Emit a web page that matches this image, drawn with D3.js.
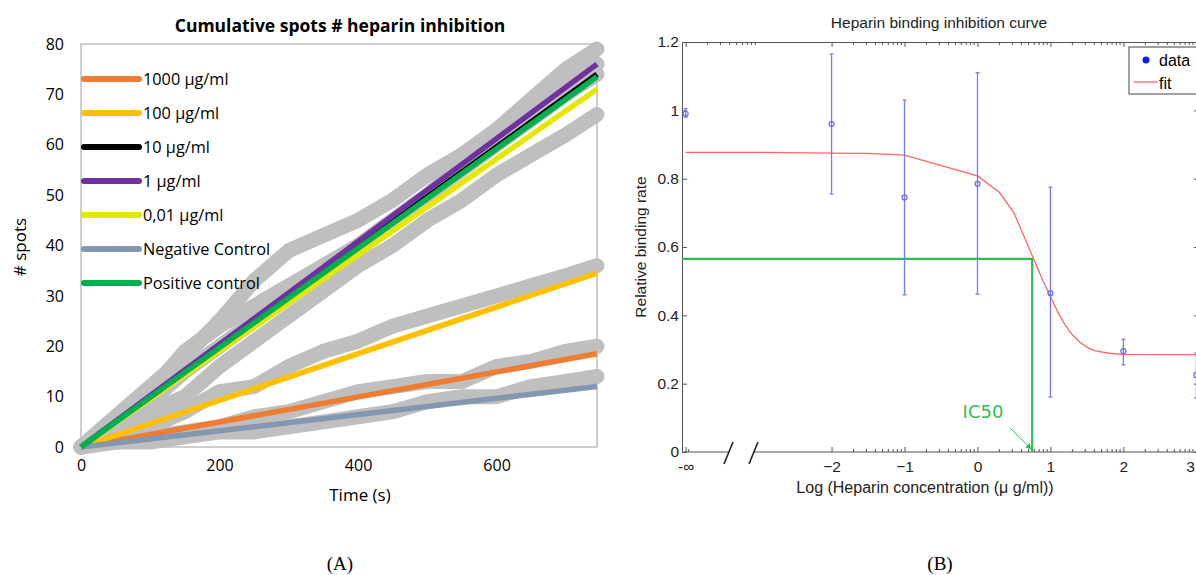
<!DOCTYPE html>
<html>
<head>
<meta charset="utf-8">
<script src="https://cdn.jsdelivr.net/npm/d3@7"></script>
<style>
body { margin: 0; background: #fff; }
svg { display: block; }
</style>
</head>
<body>
<div id="chart"></div>
<script>
const width = 1196
const height = 575

// ---- panel A data ----
const seriesNames = ["1000 µg/ml", "100 µg/ml", "10 µg/ml", "1 µg/ml", "0,01 µg/ml", "Negative Control", "Positive control"]
const seriesColors = ["#ED7D31", "#FFC000", "#000000", "#7030A0", "#E6E600", "#8497B0", "#00B050"]
const trendEnd = [18.5, 34.5, 74, 76, 71, 12, 73.5]   // trend value at t = 745 s
const trendTime = [0, 745]

const rawTimes = [0, 50, 100, 150, 200, 250, 300, 350, 400, 450, 500, 550, 600, 650, 700, 745]
const raw1000 = [0, 1, 2, 3, 4, 6, 7, 9, 11, 12, 13, 13, 16, 17, 19, 20]
const raw100 = [0, 2, 4, 7, 11, 12, 16, 19, 21, 24, 26, 28, 30, 32, 34, 36]
const raw10 = [0, 4, 9, 15, 20, 25, 30, 35, 40, 45, 50, 55, 60, 65, 70, 74]
const raw1 = [0, 6, 12, 18, 25, 33, 39, 42, 45, 49, 54, 58, 63, 69, 75, 79]
const raw001 = [0, 3, 7, 10, 16, 21, 26, 31, 36, 40, 45, 49, 54, 58, 62, 66]
const rawNeg = [0, 1, 1, 2, 3, 3, 4, 5, 6, 7, 9, 10, 10, 12, 13, 14]
const rawPos = [0, 5, 11, 19, 24, 28, 32, 36, 40, 45, 50, 56, 62, 67, 72, 76]
const rawSeries = [raw1000, raw100, raw10, raw1, raw001, rawNeg, rawPos]

// ---- panel B data ----
const concLog = [-4, -2, -1, 0, 1, 2, 3]          // -4 is drawn as -inf
const rate = [0.99, 0.96, 0.745, 0.785, 0.465, 0.295, 0.225]
const errLow = [0.98, 0.755, 0.46, 0.462, 0.161, 0.255, 0.158]
const errHigh = [1.005, 1.165, 1.03, 1.11, 0.775, 0.33, 0.29]
const fitLog = [-4, -3, -2, -1.5, -1, 0, 0.3, 0.5, 0.7, 0.8, 0.9, 1, 1.1, 1.2, 1.3, 1.4, 1.5, 1.6, 1.8, 2, 3]
const fitRate = [0.877, 0.877, 0.875, 0.874, 0.869, 0.808, 0.76, 0.70, 0.60, 0.55, 0.50, 0.455, 0.41, 0.372, 0.343, 0.322, 0.307, 0.297, 0.289, 0.286, 0.285]
const ic50Log = 0.75
const ic50Rate = 0.565

const svg = d3.select("#chart").append("svg").attr("width", width).attr("height", height)

// ================= Panel A =================
const fontA = "'Open Sans', sans-serif"
const xA = d3.scaleLinear().domain([0, 745]).range([81, 597])
const yA = d3.scaleLinear().domain([0, 80]).range([447, 44])

const gA = svg.append("g")

gA.append("rect")
    .attr("x", xA(0)).attr("y", yA(80))
    .attr("width", xA(745) - xA(0)).attr("height", yA(0) - yA(80))
    .attr("fill", "none").attr("stroke", "#BFBFBF").attr("stroke-width", 1.5)

const yAxisA = gA.append("g").attr("transform", `translate(${xA(0)},0)`)
    .call(d3.axisLeft(yA).tickValues(d3.range(0, 81, 10)).tickSize(0).tickPadding(17))
yAxisA.select(".domain").remove()
yAxisA.selectAll("text").attr("font-family", fontA).attr("font-size", 16).attr("fill", "#000")

const xAxisA = gA.append("g").attr("transform", `translate(0,${yA(0)})`)
    .call(d3.axisBottom(xA).tickValues([0, 200, 400, 600]).tickSize(0).tickPadding(13))
xAxisA.select(".domain").remove()
xAxisA.selectAll("text").attr("font-family", fontA).attr("font-size", 16).attr("fill", "#000")

// raw counts: thick grey bands
const rawLine = d3.line().x((d, i) => xA(rawTimes[i])).y(d => yA(d))
gA.append("g").selectAll("path").data(rawSeries).join("path")
    .attr("d", rawLine)
    .attr("fill", "none").attr("stroke", "#BFBFBF").attr("stroke-width", 15)
    .attr("stroke-linejoin", "round").attr("stroke-linecap", "round")

const trendLine = d3.line().x(d => xA(d[0])).y(d => yA(d[1]))
gA.append("g").selectAll("path").data(trendEnd).join("path")
    .attr("d", d => trendLine([[trendTime[0], 0], [trendTime[1], d]]))
    .attr("fill", "none").attr("stroke", (d, i) => seriesColors[i]).attr("stroke-width", 5.5)

// legend
const legA = gA.append("g")
    .selectAll("g").data(seriesNames).join("g")
    .attr("transform", (d, i) => `translate(84,${79 + i * 34})`)
legA.append("line").attr("x1", 0).attr("x2", 55)
    .attr("stroke", (d, i) => seriesColors[i]).attr("stroke-width", 6).attr("stroke-linecap", "round")
legA.append("text").attr("x", 59).attr("y", 6)
    .attr("font-family", fontA).attr("font-size", 16.3).text(d => d)

gA.append("text").attr("x", 340).attr("y", 32).attr("text-anchor", "middle")
    .attr("font-family", fontA).attr("font-size", 17.5).attr("font-weight", "bold")
    .text("Cumulative spots # heparin inhibition")
gA.append("text").attr("x", 360).attr("y", 501).attr("text-anchor", "middle")
    .attr("font-family", fontA).attr("font-size", 17).text("Time (s)")
gA.append("text").attr("transform", "translate(26,247) rotate(-90)").attr("text-anchor", "middle")
    .attr("font-family", fontA).attr("font-size", 17).text("# spots")

// ================= Panel B =================
const fontB = "'Liberation Sans', Arial, sans-serif"
const xB = d3.scaleLinear().domain([-4.05, 3.05]).range([682, 1200])
const yB = d3.scaleLinear().domain([0, 1.2]).range([452, 42])
const gB = svg.append("g")

const minorAll = []
;[-4, -2, -1, 0, 1, 2].forEach(dec => d3.range(2, 10).forEach(k => minorAll.push(dec + Math.log10(k))))
const minorBottom = minorAll.filter(v => v > -2.5)

// left axis
const yAxisB = gB.append("g").attr("transform", `translate(${xB.range()[0]},0)`)
    .call(d3.axisLeft(yB).tickValues(d3.range(0, 1.21, 0.2)).tickSizeInner(-5).tickSizeOuter(0).tickPadding(3)
        .tickFormat(d => d3.format("~g")(+d.toFixed(1))))
yAxisB.selectAll("text").attr("font-family", fontB).attr("font-size", 15.5).attr("fill", "#222")
yAxisB.selectAll("line, path").attr("stroke", "#555")

// right axis ticks (box)
const yAxisBR = gB.append("g").attr("transform", `translate(${xB.range()[1]},0)`)
    .call(d3.axisRight(yB).tickValues(d3.range(0, 1.21, 0.2)).tickSizeInner(-6).tickSizeOuter(0).tickFormat(""))
yAxisBR.selectAll("line, path").attr("stroke", "#555")

// top axis
const topB = gB.append("g").attr("transform", `translate(0,${yB(1.2)})`)
    .call(d3.axisTop(xB).tickValues([-4, -2, -1, 0, 1, 2, 3]).tickSizeInner(-5).tickSizeOuter(0).tickFormat(""))
topB.selectAll("line, path").attr("stroke", "#555")
gB.append("g").selectAll("line").data(minorAll).join("line")
    .attr("x1", d => xB(d)).attr("x2", d => xB(d)).attr("y1", yB(1.2)).attr("y2", yB(1.2) + 3)
    .attr("stroke", "#555")

// bottom axis (broken)
const botB = gB.append("g").attr("transform", `translate(0,${yB(0)})`)
    .call(d3.axisBottom(xB).tickValues([-4, -2, -1, 0, 1, 2, 3]).tickSizeInner(-5).tickSizeOuter(0).tickPadding(9)
        .tickFormat(d => d === -4 ? "-∞" : d3.format("d")(d)))
botB.select(".domain").remove()
botB.selectAll("line").attr("stroke", "#555")
botB.selectAll("text").attr("font-family", fontB).attr("font-size", 15.5).attr("fill", "#222")
botB.selectAll(".tick").filter(d => d === 3).select("text").attr("text-anchor", "end").attr("dx", -2)
gB.append("g").selectAll("line").data(minorBottom.concat([-3.96])).join("line")
    .attr("x1", d => xB(d)).attr("x2", d => xB(d)).attr("y1", yB(0)).attr("y2", yB(0) - 3)
    .attr("stroke", "#555")
gB.append("line").attr("x1", xB.range()[0]).attr("x2", 729).attr("y1", yB(0)).attr("y2", yB(0)).attr("stroke", "#555")
gB.append("line").attr("x1", 754).attr("x2", xB.range()[1]).attr("y1", yB(0)).attr("y2", yB(0)).attr("stroke", "#555")
gB.append("line").attr("x1", 733).attr("y1", 442).attr("x2", 724).attr("y2", 464).attr("stroke", "#222").attr("stroke-width", 1.6)
gB.append("line").attr("x1", 758).attr("y1", 442).attr("x2", 749).attr("y2", 464).attr("stroke", "#222").attr("stroke-width", 1.6)

// IC50 guide
gB.append("path")
    .attr("d", `M${xB.range()[0]},${yB(ic50Rate)}H${xB(ic50Log)}V${yB(0)}`)
    .attr("fill", "none").attr("stroke", "#33BB55").attr("stroke-width", 2.2)

// fit
gB.append("path")
    .attr("d", d3.line().x((d, i) => xB(d)).y((d, i) => yB(fitRate[i]))(fitLog))
    .attr("fill", "none").attr("stroke", "#FF6666").attr("stroke-width", 1.3)

// error bars + points
const errG = gB.append("g").selectAll("g").data(concLog).join("g")
errG.append("line")
    .attr("x1", d => xB(d)).attr("x2", d => xB(d))
    .attr("y1", (d, i) => yB(errLow[i])).attr("y2", (d, i) => yB(errHigh[i]))
    .attr("stroke", "#7777FF").attr("stroke-width", 1.3)
errG.append("line")
    .attr("x1", d => xB(d) - 2).attr("x2", d => xB(d) + 2)
    .attr("y1", (d, i) => yB(errLow[i])).attr("y2", (d, i) => yB(errLow[i]))
    .attr("stroke", "#7777FF").attr("stroke-width", 1.3)
errG.append("line")
    .attr("x1", d => xB(d) - 2).attr("x2", d => xB(d) + 2)
    .attr("y1", (d, i) => yB(errHigh[i])).attr("y2", (d, i) => yB(errHigh[i]))
    .attr("stroke", "#7777FF").attr("stroke-width", 1.3)
errG.append("circle")
    .attr("cx", d => xB(d)).attr("cy", (d, i) => yB(rate[i])).attr("r", 2.5)
    .attr("fill", "none").attr("stroke", "#6666FF").attr("stroke-width", 1.2)

// IC50 label + arrow
svg.append("defs").append("marker").attr("id", "arr")
    .attr("viewBox", "0 0 10 10").attr("refX", 9).attr("refY", 5)
    .attr("markerWidth", 6).attr("markerHeight", 6).attr("orient", "auto")
    .append("path").attr("d", "M0,0L10,5L0,10z").attr("fill", "#33BB55")
gB.append("line").attr("x1", 1010).attr("y1", 428).attr("x2", xB(ic50Log) - 1).attr("y2", yB(0) - 3)
    .attr("stroke", "#33BB55").attr("stroke-width", 1).attr("marker-end", "url(#arr)")
gB.append("text").attr("x", 983).attr("y", 418).attr("text-anchor", "middle")
    .attr("font-family", "'DejaVu Sans', sans-serif").attr("font-size", 18).attr("fill", "#33BB55").text("IC50")

// legend
const legB = gB.append("g")
legB.append("rect").attr("x", 1129).attr("y", 47).attr("width", 80).attr("height", 47)
    .attr("fill", "#fff").attr("stroke", "#444").attr("stroke-width", 1)
legB.append("circle").attr("cx", 1146).attr("cy", 60).attr("r", 3.5).attr("fill", "#0022EE")
legB.append("line").attr("x1", 1134).attr("x2", 1158).attr("y1", 82).attr("y2", 82).attr("stroke", "#FF6666").attr("stroke-width", 1.3)
legB.append("text").attr("x", 1159).attr("y", 66).attr("font-family", fontB).attr("font-size", 16).text("data")
legB.append("text").attr("x", 1159).attr("y", 89).attr("font-family", fontB).attr("font-size", 16).text("fit")

// titles / labels
gB.append("text").attr("x", 939).attr("y", 28).attr("text-anchor", "middle")
    .attr("font-family", fontB).attr("font-size", 15.5).attr("fill", "#222").text("Heparin binding inhibition curve")
gB.append("text").attr("x", 925).attr("y", 493).attr("text-anchor", "middle")
    .attr("font-family", fontB).attr("font-size", 16).attr("fill", "#222").text("Log (Heparin concentration (μ g/ml))")
gB.append("text").attr("transform", "translate(646,247) rotate(-90)").attr("text-anchor", "middle")
    .attr("font-family", fontB).attr("font-size", 15.5).attr("fill", "#222").text("Relative binding rate")

// panel captions
svg.append("text").attr("x", 340).attr("y", 570).attr("text-anchor", "middle")
    .attr("font-family", "'Liberation Serif', serif").attr("font-size", 19).text("(A)")
svg.append("text").attr("x", 940).attr("y", 570).attr("text-anchor", "middle")
    .attr("font-family", "'Liberation Serif', serif").attr("font-size", 19).text("(B)")
</script>
</body>
</html>
